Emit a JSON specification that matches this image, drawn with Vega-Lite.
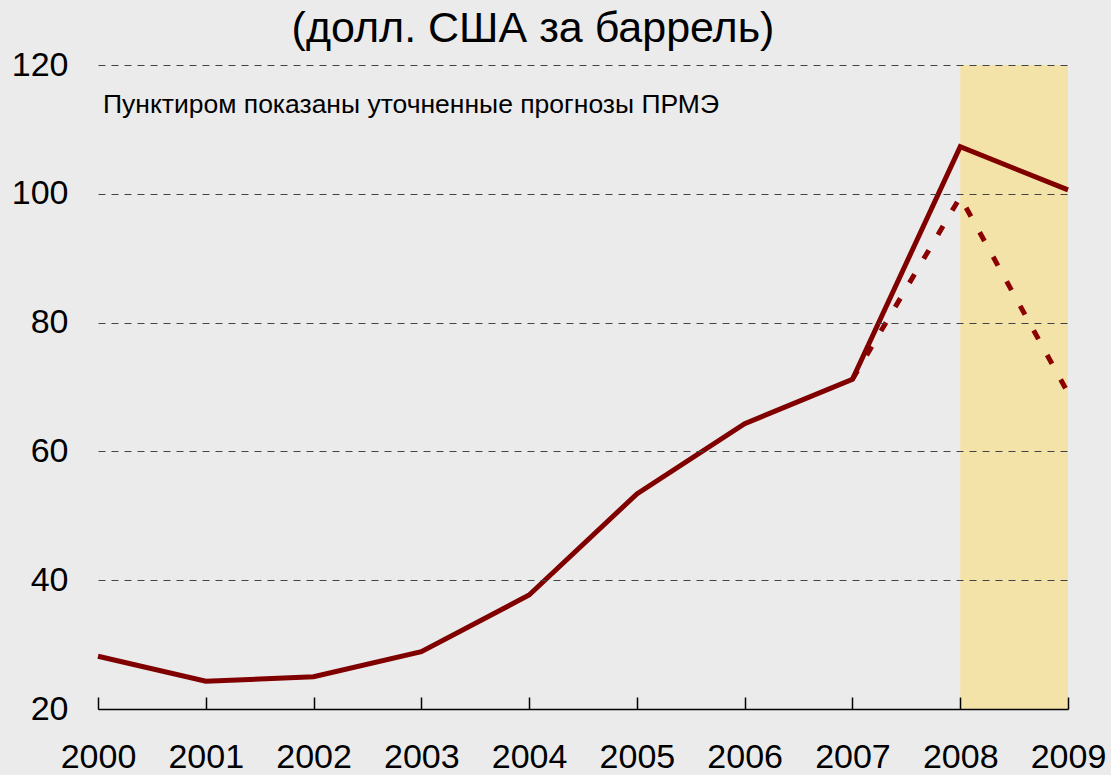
{
  "$schema": "https://vega.github.io/schema/vega-lite/v6.json",
  "width": 970,
  "height": 644,
  "autosize": {"type": "none"},
  "padding": {"left": 98, "top": 65, "right": 43, "bottom": 66},
  "background": "#ebebeb",
  "config": {
    "view": {"stroke": null},
    "font": "Liberation Sans"
  },
  "title": {
    "text": "(долл. США за баррель)",
    "fontSize": 43,
    "fontWeight": "normal",
    "color": "#000000",
    "anchor": "middle",
    "dx": -50,
    "offset": -3,
    "font": "Liberation Sans"
  },
  "datasets": {
    "actual": [
      {"year": 2000, "price": 28.2},
      {"year": 2001, "price": 24.3},
      {"year": 2002, "price": 25.0},
      {"year": 2003, "price": 28.9},
      {"year": 2004, "price": 37.7},
      {"year": 2005, "price": 53.4},
      {"year": 2006, "price": 64.3},
      {"year": 2007, "price": 71.2},
      {"year": 2008, "price": 107.3},
      {"year": 2009, "price": 100.6}
    ],
    "forecast": [
      {"year": 2007, "price": 71.2},
      {"year": 2008, "price": 99.5},
      {"year": 2009, "price": 69.1}
    ],
    "band": [
      {"start": 2008, "end": 2009, "low": 20, "high": 120}
    ],
    "note": [
      {"label": "Пунктиром показаны уточненные прогнозы ПРМЭ"}
    ]
  },
  "layer": [
    {
      "data": {"name": "actual"},
      "mark": {"type": "line", "stroke": "transparent"},
      "encoding": {
        "x": {
          "field": "year",
          "type": "quantitative",
          "scale": {"domain": [2000, 2009], "nice": false, "zero": false},
          "axis": {
            "title": null,
            "format": "d",
            "values": [2000, 2001, 2002, 2003, 2004, 2005, 2006, 2007, 2008, 2009],
            "grid": false,
            "domainColor": "#000000",
            "domainWidth": 1.5,
            "tickColor": "#000000",
            "tickWidth": 1.5,
            "tickSize": -12,
            "labelFontSize": 34,
            "labelColor": "#000000",
            "labelPadding": 43,
            "labelFlush": false,
            "labelOverlap": false,
            "zindex": 1
          }
        },
        "y": {
          "field": "price",
          "type": "quantitative",
          "scale": {"domain": [20, 120], "nice": false, "zero": false},
          "axis": {
            "title": null,
            "values": [20, 40, 60, 80, 100, 120],
            "domain": false,
            "ticks": false,
            "grid": true,
            "gridColor": "#444444",
            "gridDash": [7, 6],
            "gridWidth": 1.2,
            "labelFontSize": 34,
            "labelColor": "#000000",
            "labelPadding": 30,
            "zindex": 1
          }
        }
      }
    },
    {
      "data": {"name": "band"},
      "mark": {"type": "rect", "fill": "#f4e3a8"},
      "encoding": {
        "x": {"field": "start", "type": "quantitative"},
        "x2": {"field": "end"},
        "y": {"field": "low", "type": "quantitative"},
        "y2": {"field": "high"}
      }
    },
    {
      "data": {"name": "forecast"},
      "mark": {"type": "line", "color": "#8b0000", "strokeWidth": 5, "strokeDash": [10, 18]},
      "encoding": {
        "x": {"field": "year", "type": "quantitative"},
        "y": {"field": "price", "type": "quantitative"}
      }
    },
    {
      "data": {"name": "actual"},
      "mark": {"type": "line", "color": "#800000", "strokeWidth": 5},
      "encoding": {
        "x": {"field": "year", "type": "quantitative"},
        "y": {"field": "price", "type": "quantitative"}
      }
    },
    {
      "data": {"name": "note"},
      "mark": {"type": "text", "fontSize": 26.5, "align": "left", "baseline": "alphabetic", "color": "#000000"},
      "encoding": {
        "text": {"field": "label", "type": "nominal"},
        "x": {"datum": 2000.046},
        "y": {"datum": 112.5}
      }
    }
  ]
}
